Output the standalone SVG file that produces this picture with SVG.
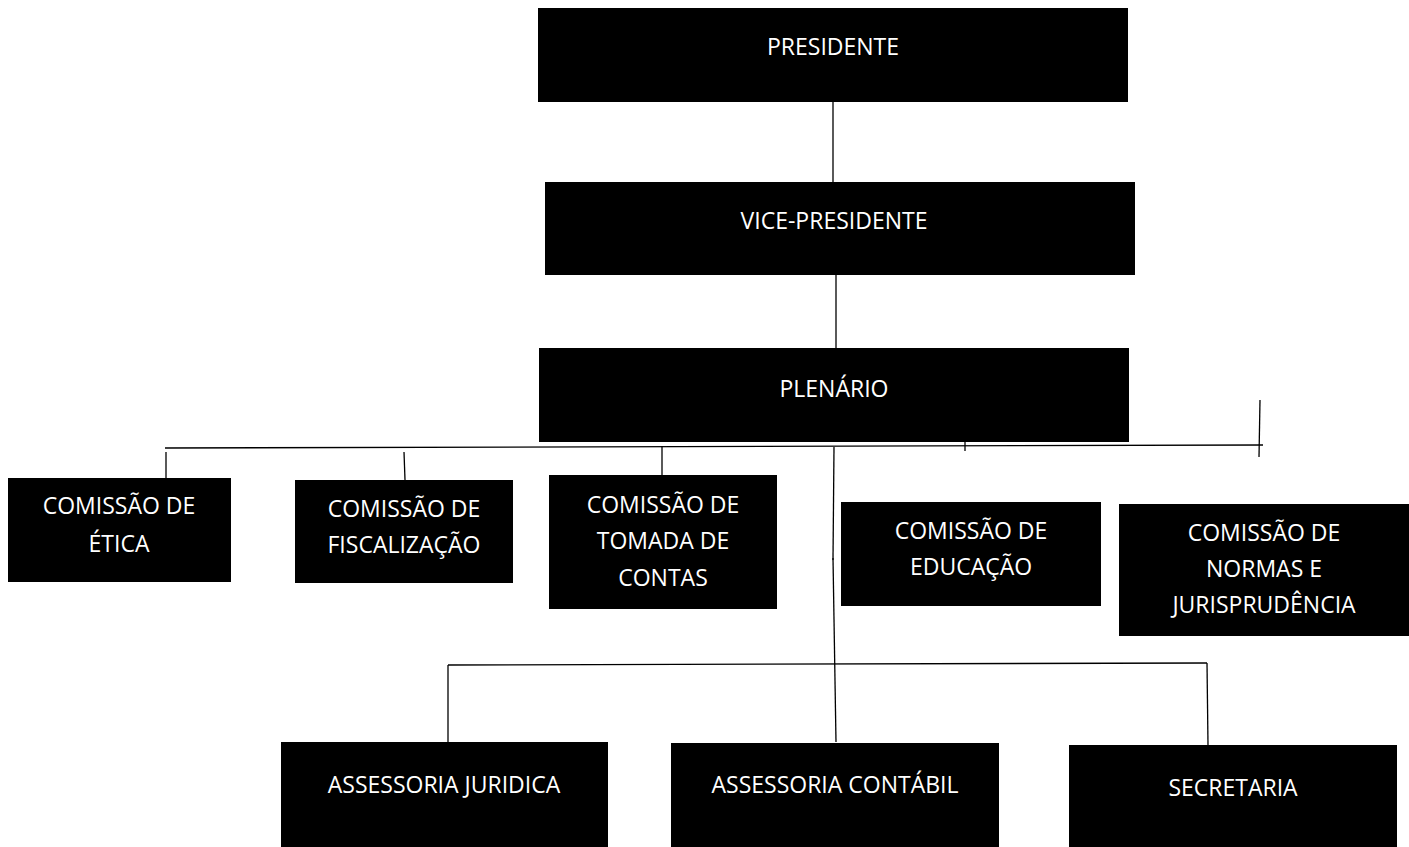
<svg xmlns="http://www.w3.org/2000/svg" width="1409" height="847" viewBox="0 0 1409 847">
<style>
.box{fill:#000}
.t{fill:#fff;font-family:"Open Sans","Liberation Sans",sans-serif;font-size:23px;text-anchor:middle}
.c{stroke:#000;stroke-width:1.3;fill:none}
</style>
<rect width="1409" height="847" fill="#fff"/>
<g id="connectors">
<line class="c" x1="833" y1="102" x2="833" y2="182"/>
<line class="c" x1="836" y1="275" x2="836" y2="348"/>
<line class="c" x1="165" y1="448" x2="1263" y2="445"/>
<line class="c" x1="1260" y1="400" x2="1259" y2="457"/>
<line class="c" x1="965" y1="442" x2="965" y2="451"/>
<line class="c" x1="166" y1="452" x2="166" y2="478"/>
<line class="c" x1="404" y1="452" x2="405" y2="480"/>
<line class="c" x1="662" y1="446" x2="662" y2="475"/>
<line class="c" x1="834" y1="447" x2="833" y2="560"/>
<line class="c" x1="833" y1="558" x2="836" y2="742"/>
<line class="c" x1="448" y1="665" x2="1207" y2="663"/>
<line class="c" x1="448" y1="665" x2="448" y2="742"/>
<line class="c" x1="1207" y1="663" x2="1208" y2="745"/>
</g>
<g id="presidente"><rect class="box" x="538" y="8" width="590" height="94"/><text class="t" x="833" y="55">PRESIDENTE</text></g>
<g id="vice-presidente"><rect class="box" x="545" y="182" width="590" height="93"/><text class="t" x="834" y="229">VICE-PRESIDENTE</text></g>
<g id="plenario"><rect class="box" x="539" y="348" width="590" height="94"/><text class="t" x="834" y="397">PLENÁRIO</text></g>
<g id="etica"><rect class="box" x="8" y="478" width="223" height="104"/><text class="t" x="119" y="514">COMISSÃO DE</text><text class="t" x="119" y="552">ÉTICA</text></g>
<g id="fiscalizacao"><rect class="box" x="295" y="480" width="218" height="103"/><text class="t" x="404" y="517">COMISSÃO DE</text><text class="t" x="404" y="553">FISCALIZAÇÃO</text></g>
<g id="tomada-contas"><rect class="box" x="549" y="475" width="228" height="134"/><text class="t" x="663" y="513">COMISSÃO DE</text><text class="t" x="663" y="549">TOMADA DE</text><text class="t" x="663" y="586">CONTAS</text></g>
<g id="educacao"><rect class="box" x="841" y="502" width="260" height="104"/><text class="t" x="971" y="539">COMISSÃO DE</text><text class="t" x="971" y="575">EDUCAÇÃO</text></g>
<g id="normas"><rect class="box" x="1119" y="504" width="290" height="132"/><text class="t" x="1264" y="541">COMISSÃO DE</text><text class="t" x="1264" y="577">NORMAS E</text><text class="t" x="1264" y="613">JURISPRUDÊNCIA</text></g>
<g id="assessoria-juridica"><rect class="box" x="281" y="742" width="327" height="105"/><text class="t" x="444" y="793">ASSESSORIA JURIDICA</text></g>
<g id="assessoria-contabil"><rect class="box" x="671" y="743" width="328" height="104"/><text class="t" x="835" y="793">ASSESSORIA CONTÁBIL</text></g>
<g id="secretaria"><rect class="box" x="1069" y="745" width="328" height="102"/><text class="t" x="1233" y="796">SECRETARIA</text></g>
</svg>
